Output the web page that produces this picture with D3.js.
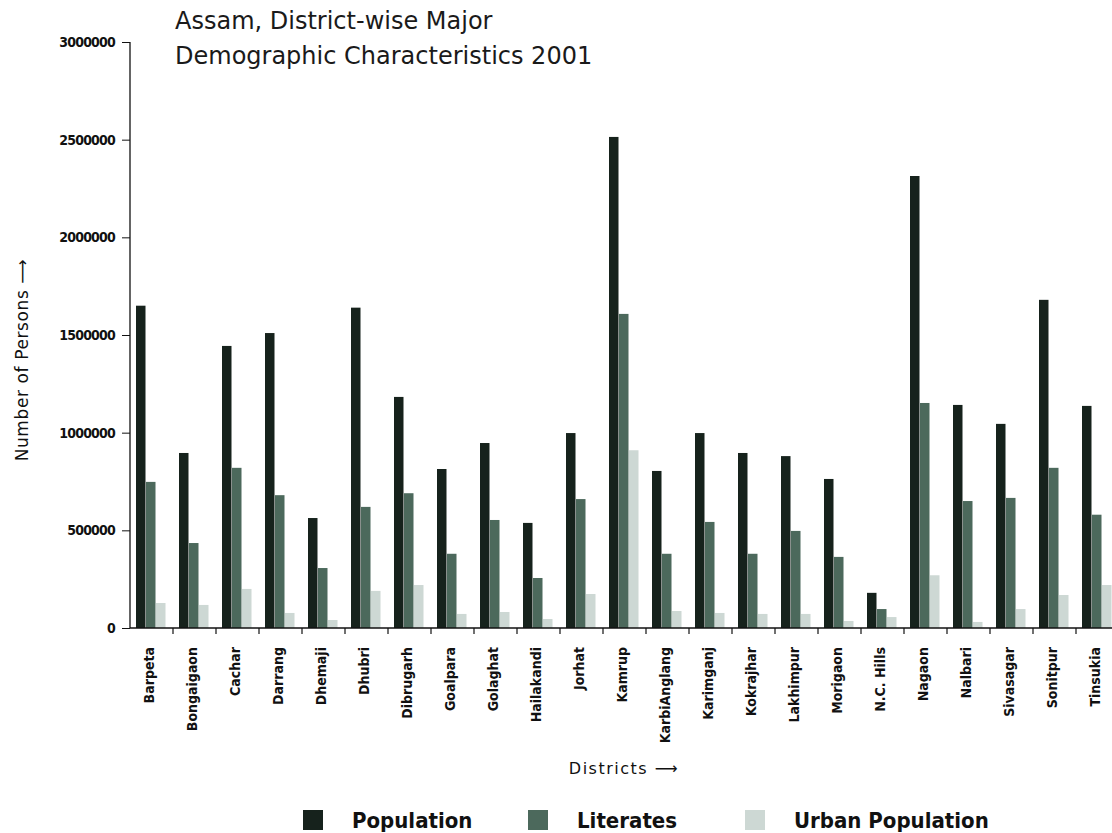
<!DOCTYPE html>
<html><head><meta charset="utf-8">
<script src="https://cdn.jsdelivr.net/npm/d3@7"></script>
<style>
body{margin:0;background:#fff;}
svg{display:block;font-family:"DejaVu Sans",sans-serif;}
</style></head><body>
<svg id="c" width="1112" height="833"></svg>
<script>
const districts = ["Barpeta","Bongaigaon","Cachar","Darrang","Dhemaji","Dhubri","Dibrugarh","Goalpara","Golaghat","Hailakandi","Jorhat","Kamrup","KarbiAnglang","Karimganj","Kokrajhar","Lakhimpur","Morigaon","N.C. Hills","Nagaon","Nalbari","Sivasagar","Sonitpur","Tinsukia"];
const population = [1650000,896000,1444000,1510000,563000,1640000,1183000,814000,947000,538000,998000,2514000,804000,998000,896000,880000,763000,180000,2314000,1142000,1045000,1680000,1137000];
const literates = [748000,435000,820000,680000,307000,620000,690000,380000,553000,256000,660000,1608000,380000,543000,380000,497000,364000,97000,1152000,650000,666000,820000,580000];
const urban = [128000,118000,200000,77000,41000,190000,220000,72000,82000,46000,174000,910000,87000,77000,72000,72000,36000,56000,270000,31000,97000,169000,220000];
const yTicks = [0,500000,1000000,1500000,2000000,2500000,3000000];
const seriesNames = ["Population","Literates","Urban Population"];
const seriesColors = ["#16221c","#4c695c","#cdd8d4"];

const svg = d3.select("#c");
const x = d3.scaleBand().domain(districts).range([130,1119]).paddingInner(0).paddingOuter(0);
const y = d3.scaleLinear().domain([0,3000000]).range([628,42]);
const xs = d3.scaleBand().domain([0,1,2]).range([6,36]);

const data = districts.map((d,i)=>({d, vals:[population[i],literates[i],urban[i]]}));

const g = svg.append("g");
data.forEach(row=>{
  row.vals.forEach((v,k)=>{
    g.append("rect")
      .attr("x", x(row.d)+xs(k))
      .attr("width", xs.bandwidth()-0.5)
      .attr("y", y(v))
      .attr("height", y(0)-y(v))
      .attr("fill", seriesColors[k]);
  });
});

// Y axis
const yAxis = d3.axisLeft(y).tickValues(yTicks).tickFormat(d3.format("d")).tickSize(8).tickPadding(7);
const ya = svg.append("g").attr("transform","translate(130,0)").call(yAxis);
ya.select(".domain").attr("stroke","#111").attr("stroke-width",1.3).attr("d","M0,628V42");
ya.selectAll(".tick line").attr("stroke","#111");
ya.selectAll("text").attr("font-family","'DejaVu Sans Condensed',sans-serif")
  .attr("font-size",14).attr("font-weight","bold").attr("fill","#111").attr("letter-spacing","-0.8");

// X axis
const xAxis = d3.axisBottom(x).tickSize(0).tickPadding(0);
const xa = svg.append("g").attr("transform","translate(0,628)").call(xAxis);
xa.select(".domain").attr("stroke","#111").attr("stroke-width",1.3).attr("d","M130,0H1112");
xa.selectAll(".tick text")
  .attr("font-family","'DejaVu Sans Condensed',sans-serif")
  .attr("font-size",14).attr("font-weight","bold").attr("fill","#111")
  .attr("text-anchor","end")
  .attr("transform","rotate(-90)")
  .attr("x",-19).attr("y",-2).attr("dy","0.35em");
// band boundary ticks
const bounds = districts.map(d=>x(d)+x.bandwidth());
svg.append("g").selectAll("line").data(bounds).join("line")
  .attr("x1",d=>d).attr("x2",d=>d).attr("y1",628).attr("y2",634)
  .attr("stroke","#111").attr("stroke-width",1.2);

// Titles
const title = svg.append("text").attr("x",175).attr("font-size",24).attr("fill","#1a1a1a")
  .attr("font-family","'DejaVu Sans',sans-serif");
title.append("tspan").attr("x",175).attr("y",29).text("Assam, District-wise Major");
title.append("tspan").attr("x",175).attr("y",64).text("Demographic Characteristics 2001");

svg.append("text").attr("transform","translate(28,360) rotate(-90)")
  .attr("text-anchor","middle").attr("font-size",17).attr("fill","#111").attr("letter-spacing","0.6")
  .text("Number of Persons \u27F6");

svg.append("text").attr("x",624).attr("y",774).attr("text-anchor","middle")
  .attr("font-size",16).attr("fill","#111").attr("letter-spacing","1.5")
  .text("Districts \u27F6");

// Legend
const legX = [303,528,745];
const leg = svg.append("g");
seriesNames.forEach((n,k)=>{
  leg.append("rect").attr("x",legX[k]).attr("y",810).attr("width",20).attr("height",20).attr("fill",seriesColors[k]);
  leg.append("text").attr("x",legX[k]+49).attr("y",828).attr("font-size",22)
    .attr("font-weight","bold").attr("fill","#111")
    .attr("font-family","'DejaVu Sans Condensed',sans-serif").text(n);
});
</script>
</body></html>
